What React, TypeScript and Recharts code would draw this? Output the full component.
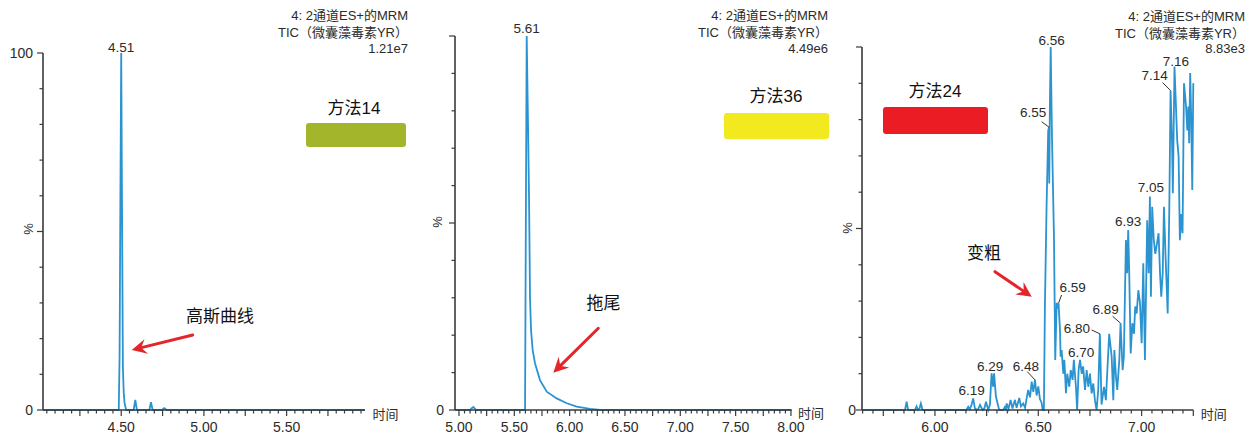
import React from "react";
import { ComposedChart, Line, Scatter, XAxis, YAxis } from "recharts";

const FONT = '"Liberation Sans", Arial, "Noto Sans CJK SC", sans-serif';
const TRACE = "#2a93d0";
const AXIS = "#3a3a3a";
const INK = "#2b2b2b";
const ARROW = "#e3262c";

// 方法14 — retention time (min) / relative intensity (%)
const p1Time = [4.027, 4.485, 4.49, 4.495, 4.5, 4.505, 4.51, 4.515, 4.52, 4.53, 4.575, 4.585, 4.595, 4.67, 4.68, 4.69, 4.745, 4.76, 4.775, 5.974];
const p1Pct = [0, 0, 15, 60, 100, 55, 12, 5, 2, 0, 0, 2.8, 0, 0, 2.2, 0, 0, 0.5, 0, 0];
const p1PeakTime = [4.5];
const p1PeakPct = [100];
const p1PeakText = ["4.51"];
const p1XLabels = ["4.50", "5.00", "5.50"];
const p1YLabels = ["0", "100"];

// 方法36
const p2Time = [4.964, 5.1, 5.115, 5.13, 5.145, 5.16, 5.597, 5.605, 5.612, 5.622, 5.633, 5.642, 5.651, 5.666, 5.687, 5.732, 5.793, 5.883, 5.974, 6.064, 6.184, 6.275, 8.005];
const p2Pct = [0, 0, 0.5, 0.8, 0.3, 0, 0, 55, 100, 80, 57, 30, 21.4, 16, 12.5, 8, 4.9, 3.1, 1.8, 0.9, 0.3, 0, 0];
const p2PeakTime = [5.612];
const p2PeakPct = [100];
const p2PeakText = ["5.61"];
const p2XLabels = ["5.00", "5.50", "6.00", "6.50", "7.00", "7.50", "8.00"];
const p2YLabels = ["0"];

// 方法24
const p3Time = [
  5.647, 5.855, 5.863, 5.87, 5.903, 5.911, 5.918, 5.925, 5.932, 5.94,
  6.152, 6.161, 6.168, 6.176, 6.185, 6.193, 6.202, 6.21, 6.218, 6.231,
  6.239, 6.247, 6.258, 6.266, 6.274, 6.282, 6.286, 6.295, 6.303, 6.311,
  6.33, 6.338, 6.343, 6.347, 6.356, 6.366, 6.375, 6.387, 6.395, 6.408,
  6.416, 6.427, 6.436, 6.443, 6.451, 6.46, 6.468, 6.476, 6.484, 6.492,
  6.5, 6.508, 6.516, 6.521, 6.527, 6.532, 6.54, 6.548, 6.552, 6.553,
  6.556, 6.56, 6.566, 6.576, 6.582, 6.589, 6.595, 6.598, 6.605, 6.608,
  6.613, 6.621, 6.626, 6.634, 6.64, 6.65, 6.657, 6.666, 6.672, 6.682,
  6.688, 6.695, 6.702, 6.71, 6.717, 6.726, 6.734, 6.742, 6.75, 6.758,
  6.766, 6.774, 6.782, 6.79, 6.798, 6.806, 6.818, 6.827, 6.843, 6.855,
  6.863, 6.868, 6.876, 6.882, 6.892, 6.898, 6.908, 6.914, 6.924, 6.93,
  6.935, 6.94, 6.947, 6.955, 6.963, 6.969, 6.976, 6.984, 6.992, 7.0,
  7.008, 7.016, 7.027, 7.034, 7.04, 7.045, 7.051, 7.059, 7.066, 7.072,
  7.082, 7.089, 7.095, 7.102, 7.108, 7.116, 7.126, 7.134, 7.14, 7.147,
  7.151, 7.159, 7.172, 7.179, 7.185, 7.192, 7.198, 7.205, 7.215, 7.221,
  7.226, 7.23, 7.235, 7.24, 7.245, 7.25,
];
const p3Pct = [
  0, 0, 2.3, 0, 0, 1.0, 0, 0.4, 1.8, 0,
  0, 0.9, 0.2, 1.2, 3.2, 0.5, 0, 0.3, 1.4, 0,
  0.4, 2.3, 0, 1.5, 10.1, 6.4, 10.1, 3.7, 1.8, 0,
  0, 0.8, 0, 1.8, 0.3, 2.8, 0.4, 2.8, 0.6, 3.3,
  1.0, 1.8, 0.6, 3.0, 5.5, 3.5, 7.8, 5.0, 8.3, 4.0,
  6.5, 3.0, 2.0, 0, 0, 28.5, 56, 77, 77.9, 62.4,
  83.6, 100, 76, 47, 13.8, 29.5, 28.5, 29.4, 22, 14.7,
  16.5, 10, 13.8, 4.6, 10, 6.4, 11, 8.3, 13.8, 6.4,
  0, 11, 13.8, 10, 12, 5.5, 11, 6.4, 10, 4.6,
  7.3, 2.7, 0, 5.5, 21, 1.5, 6.4, 2.7, 21, 14.7,
  2.7, 16.5, 9, 5.5, 13.8, 23.9, 11, 14.7, 46.8, 37.7,
  49.6, 37.7, 15.6, 23.9, 21, 28.5, 26.6, 33, 29.5, 18.4,
  40.4, 13.8, 52.3, 37.7, 58.8, 31.2, 56, 46.8, 43, 45,
  48.7, 37.7, 31.2, 37.7, 56, 42, 26.6, 56, 88, 74,
  59.7, 94.6, 74.4, 69.8, 46.8, 54, 48.7, 90, 83.6, 77,
  83.6, 73.5, 92.8, 80, 60.6, 90,
];
const p3PeakTime = [6.185, 6.286, 6.484, 6.552, 6.56, 6.598, 6.702, 6.798, 6.898, 6.935, 7.04, 7.14, 7.159];
const p3PeakPct = [3.2, 10.1, 8.3, 77.9, 100, 29.4, 13.8, 21, 23.9, 49.6, 58.8, 88, 94.6];
const p3PeakText = ["6.19", "6.29", "6.48", "6.55", "6.56", "6.59", "6.70", "6.80", "6.89", "6.93", "7.05", "7.14", "7.16"];
const p3XLabels = ["6.00", "6.50", "7.00"];
const p3YLabels = ["0"];

// label placement relative to the peak point (label centre, optional leader start)
type Place = { dx: number; dy: number; lx?: number; ly?: number };
const p1Place: Place[] = [{ dx: 0, dy: -6 }];
const p2Place: Place[] = [{ dx: 0, dy: -8 }];
const p3Place: Place[] = [
  { dx: -1.5, dy: -8.5 },
  { dx: -4, dy: -7 },
  { dx: -9, dy: -14, lx: -7.7, ly: -8.2 },
  { dx: -16, dy: -15, lx: -7.4, ly: -5.5 },
  { dx: 1, dy: -7 },
  { dx: 14, dy: -16, lx: 3, ly: -8.3 },
  { dx: 1, dy: -8 },
  { dx: -23, dy: -6, lx: -8.3, ly: -3.8 },
  { dx: -15, dy: -14, lx: -8, ly: -7 },
  { dx: 0, dy: -9 },
  { dx: 1, dy: -10 },
  { dx: -16, dy: -15.5, lx: -8, ly: -8 },
  { dx: 1.5, dy: -6 },
];

const Y_TICKS = [0, 10, 20, 30, 40, 50, 60, 70, 80, 90, 100];

const rowsOf = (time: number[], pct: number[]) =>
  time.map((t, i) => ({ t, pct: pct[i] }));

const peaksOf = (time: number[], pct: number[], text: string[], place: Place[]) =>
  time.map((t, i) => ({ t, pct: pct[i], text: text[i], ...place[i] }));

const tickRange = (lo: number, hi: number, step: number) => {
  const out: number[] = [];
  for (let k = Math.ceil(lo / step - 1e-9); k * step <= hi + 1e-9; k++) {
    out.push(Math.round(k * step * 1000) / 1000);
  }
  return out;
};

const XTick = ({ x, y, payload, labels }: any) => {
  const v = payload.value as number;
  const text = labels.find((l: string) => Math.abs(parseFloat(l) - v) < 1e-6);
  const major = Math.abs(v * 4 - Math.round(v * 4)) < 1e-6;
  return (
    <g>
      <line x1={x} x2={x} y1={y} y2={y + (major ? 6 : 3.5)} stroke={AXIS} strokeWidth={1.2} />
      {text && (
        <text x={x} y={y + 21.5} textAnchor="middle" fontSize={14} fontFamily={FONT} fill={INK}>
          {text}
        </text>
      )}
    </g>
  );
};

const YTick = ({ x, y, payload, labels, gap }: any) => {
  const v = payload.value as number;
  const text = labels.find((l: string) => parseFloat(l) === v);
  const major = v % 50 === 0;
  return (
    <g>
      <line x1={x} x2={x - (major ? 6 : 3.5)} y1={y} y2={y} stroke={AXIS} strokeWidth={1.2} />
      {text && (
        <text x={x - gap} y={y + 5} textAnchor="end" fontSize={14} fontFamily={FONT} fill={INK}>
          {text}
        </text>
      )}
    </g>
  );
};

const PeakLabel = (props: any) => {
  const { cx, cy, payload } = props;
  if (cx == null || cy == null) return <g />;
  const { text, dx, dy, lx, ly } = payload;
  return (
    <g>
      {lx !== undefined && (
        <line x1={cx + lx} y1={cy + ly} x2={cx} y2={cy} stroke="#333" strokeWidth={1} />
      )}
      <text x={cx + dx} y={cy + dy + 5} textAnchor="middle" fontSize={13.5} fontFamily={FONT} fill={INK}>
        {text}
      </text>
    </g>
  );
};

type PanelProps = {
  left: number;
  width: number;
  margin: { top: number; right: number; bottom: number; left: number };
  domain: [number, number];
  rows: { t: number; pct: number }[];
  peaks: any[];
  xLabels: string[];
  yLabels: string[];
  yGap: number;
};

// axes are 1px thick so Recharts still draws them; margins account for that pixel
const Panel = ({ left, width, margin, domain, rows, peaks, xLabels, yLabels, yGap }: PanelProps) => (
  <div style={{ position: "absolute", left, top: 0 }}>
    <ComposedChart
      width={width}
      height={443}
      margin={{ ...margin, left: margin.left - 1, bottom: margin.bottom - 1 }}
    >
      <XAxis
        type="number"
        dataKey="t"
        domain={domain}
        ticks={tickRange(domain[0], domain[1], 0.05)}
        interval={0}
        height={1}
        tickSize={0}
        tickMargin={0}
        tickLine={false}
        axisLine={{ stroke: AXIS, strokeWidth: 1.6 }}
        tick={(p: any) => <XTick {...p} labels={xLabels} />}
      />
      <YAxis
        type="number"
        dataKey="pct"
        domain={[0, 100]}
        ticks={Y_TICKS}
        interval={0}
        width={1}
        tickSize={0}
        tickMargin={0}
        tickLine={false}
        axisLine={{ stroke: AXIS, strokeWidth: 1.6 }}
        tick={(p: any) => <YTick {...p} labels={yLabels} gap={yGap} />}
      />
      <Line
        data={rows}
        dataKey="pct"
        type="linear"
        stroke={TRACE}
        strokeWidth={1.8}
        dot={false}
        activeDot={false}
        isAnimationActive={false}
      />
      <Scatter data={peaks} dataKey="pct" shape={PeakLabel} isAnimationActive={false} />
    </ComposedChart>
  </div>
);

const Arrow = ({ x1, y1, x2, y2 }: { x1: number; y1: number; x2: number; y2: number }) => {
  const a = Math.atan2(y2 - y1, x2 - x1);
  const c = Math.cos(a);
  const s = Math.sin(a);
  const L = 15;
  const W = 7.5;
  const bx = x2 - L * c;
  const by = y2 - L * s;
  const pts = [
    [x2, y2],
    [bx - s * W, by + c * W],
    [x2 - 0.65 * L * c, y2 - 0.65 * L * s],
    [bx + s * W, by - c * W],
  ]
    .map((p) => p.join(","))
    .join(" ");
  return (
    <g>
      <line x1={x1} y1={y1} x2={x2 - 0.6 * L * c} y2={y2 - 0.6 * L * s} stroke={ARROW} strokeWidth={3} strokeLinecap="round" />
      <polygon points={pts} fill={ARROW} />
    </g>
  );
};

const Title = ({ right, base, value }: { right: number; base: number[]; value: string }) => (
  <g fontFamily={FONT} fontSize={13} fill={INK} textAnchor="end">
    <text x={right} y={base[0]}>4: 2通道ES+的MRM</text>
    <text x={right} y={base[1]}>TIC（微囊藻毒素YR）</text>
    <text x={right} y={base[2]}>{value}</text>
  </g>
);

const Method = ({ cx, ty, box, color, label }: { cx: number; ty: number; box: number[]; color: string; label: string }) => (
  <g>
    <text x={cx} y={ty} textAnchor="middle" fontFamily={FONT} fontSize={17} fill="#111">
      {label}
    </text>
    <rect x={box[0]} y={box[1]} width={box[2]} height={box[3]} rx={3} fill={color} />
  </g>
);

const Note = ({ x, y, text }: { x: number; y: number; text: string }) => (
  <text x={x} y={y} textAnchor="middle" fontFamily={FONT} fontSize={17} fill="#111">
    {text}
  </text>
);

const SmallText = ({ x, y, text, rotate }: { x: number; y: number; text: string; rotate?: boolean }) => (
  <text
    x={x}
    y={y}
    textAnchor="middle"
    dominantBaseline="central"
    fontFamily={FONT}
    fontSize={13}
    fill={INK}
    transform={rotate ? `rotate(-90 ${x} ${y})` : undefined}
  >
    {text}
  </text>
);

export default function App() {
  return (
    <div style={{ position: "absolute", left: 0, top: 0, width: 1256, height: 443, background: "#fff", overflow: "hidden" }}>
      <Panel
        left={0}
        width={420}
        margin={{ top: 53, right: 55, bottom: 33, left: 43 }}
        domain={[4.027, 5.974]}
        rows={rowsOf(p1Time, p1Pct)}
        peaks={peaksOf(p1PeakTime, p1PeakPct, p1PeakText, p1Place)}
        xLabels={p1XLabels}
        yLabels={p1YLabels}
        yGap={10}
      />
      <Panel
        left={420}
        width={420}
        margin={{ top: 36, right: 48.5, bottom: 33, left: 35 }}
        domain={[4.964, 8.005]}
        rows={rowsOf(p2Time, p2Pct)}
        peaks={peaksOf(p2PeakTime, p2PeakPct, p2PeakText, p2Place)}
        xLabels={p2XLabels}
        yLabels={p2YLabels}
        yGap={11}
      />
      <Panel
        left={840}
        width={416}
        margin={{ top: 47, right: 62.7, bottom: 33, left: 22 }}
        domain={[5.647, 7.25]}
        rows={rowsOf(p3Time, p3Pct)}
        peaks={peaksOf(p3PeakTime, p3PeakPct, p3PeakText, p3Place)}
        xLabels={p3XLabels}
        yLabels={p3YLabels}
        yGap={6}
      />
      <svg width={1256} height={443} style={{ position: "absolute", left: 0, top: 0, pointerEvents: "none" }}>
        <Title right={408} base={[20, 37, 53]} value="1.21e7" />
        <Title right={828} base={[20, 37, 53]} value="4.49e6" />
        <Title right={1245} base={[21, 38, 53]} value="8.83e3" />

        <Method cx={354} ty={114} box={[306, 123, 100, 24]} color="#a3b52a" label="方法14" />
        <Method cx={776} ty={102} box={[724, 113, 105, 26]} color="#f2ea1f" label="方法36" />
        <Method cx={935} ty={97} box={[883, 107, 105, 27]} color="#ec1c24" label="方法24" />

        <Note x={220} y={322} text="高斯曲线" />
        <Note x={603.5} y={309} text="拖尾" />
        <Note x={984} y={259} text="变粗" />
        <Arrow x1={192.7} y1={335} x2={131.7} y2={350} />
        <Arrow x1={598.3} y1={328.3} x2={553.3} y2={372.7} />
        <Arrow x1={995} y1={271.7} x2={1031.7} y2={296.7} />

        <SmallText x={385.5} y={414} text="时间" />
        <SmallText x={811} y={413} text="时间" />
        <SmallText x={1213.7} y={414} text="时间" />
        <SmallText x={28} y={229} text="%" rotate />
        <SmallText x={437.5} y={222} text="%" rotate />
        <SmallText x={847.5} y={228} text="%" rotate />
      </svg>
    </div>
  );
}
